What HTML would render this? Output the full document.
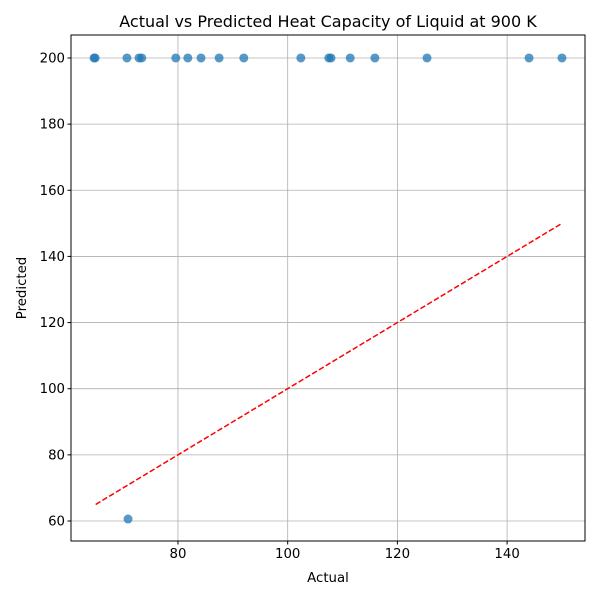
<!DOCTYPE html>
<html><head><meta charset="utf-8"><style>
body{margin:0;background:#fff;}
svg text{font-family:"DejaVu Sans","Liberation Sans",sans-serif;}
</style></head><body>
<svg id="chart" width="600" height="600" xmlns="http://www.w3.org/2000/svg">
<rect width="600" height="600" fill="#fff"/>
<text x="328" y="27" text-anchor="middle" font-size="16">Actual vs Predicted Heat Capacity of Liquid at 900 K</text>
<g id="grid"></g><g id="ticks"></g><g id="marks"></g>
<rect x="71" y="35" width="514" height="506" fill="none" stroke="#000" stroke-width="1"/>
<text x="328" y="582" text-anchor="middle" font-size="13.3">Actual</text>
<text x="26" y="288" text-anchor="middle" font-size="13.3" transform="rotate(-90 26 288)">Predicted</text>
</svg>
<script>
const actualVals=[64.7,64.9,70.7,72.9,73.4,79.6,81.8,84.2,87.5,92.0,102.4,107.5,107.9,111.4,115.9,125.4,144.0,150.0,70.9];
const predictedVals=[200,200,200,200,200,200,200,200,200,200,200,200,200,200,200,200,200,200,60.6];
const xTicks=[80,100,120,140];
const yTicks=[60,80,100,120,140,160,180,200];
const idealLine=[65,150];
const NS="http://www.w3.org/2000/svg";
const X0=71,X1=585,Y0=541,Y1=35,xMin=60.5,xMax=154.2,yMin=53.95,yMax=206.95;
const sx=v=>X0+(v-xMin)/(xMax-xMin)*(X1-X0);
const sy=v=>Y0-(v-yMin)/(yMax-yMin)*(Y0-Y1);
function mk(t,a,p){const e=document.createElementNS(NS,t);for(const k in a)e.setAttribute(k,a[k]);p.appendChild(e);return e;}
const grid=document.getElementById('grid'),ticks=document.getElementById('ticks'),marks=document.getElementById('marks');
xTicks.forEach(v=>{const x=sx(v);
const g=mk('line',{x1:x,x2:x,y1:Y1,y2:Y0,stroke:'#b0b0b0','stroke-width':0.8},grid);


mk('line',{x1:x,x2:x,y1:Y0,y2:Y0+3.5,stroke:'#000'},ticks);
const t=mk('text',{x:x,y:Y0+17,'text-anchor':'middle','font-size':13.3},ticks);t.textContent=v;

});
yTicks.forEach(v=>{const y=sy(v);
const g=mk('line',{x1:X0,x2:X1,y1:y,y2:y,stroke:'#b0b0b0','stroke-width':0.8},grid);


mk('line',{x1:X0-3.5,x2:X0,y1:y,y2:y,stroke:'#000'},ticks);
const t=mk('text',{x:X0-6,y:y+4.5,'text-anchor':'end','font-size':13.3},ticks);t.textContent=v;

});
actualVals.forEach((a,i)=>{const c=mk('circle',{cx:sx(a),cy:sy(predictedVals[i]),r:4.5,fill:'#1f77b4','fill-opacity':0.75},marks);

});
const l=mk('line',{x1:sx(idealLine[0]),y1:sy(idealLine[0]),x2:sx(idealLine[1]),y2:sy(idealLine[1]),stroke:'#ff0000','stroke-width':1.5,'stroke-dasharray':'5.5,2.4'},marks);


</script>
</body></html>
